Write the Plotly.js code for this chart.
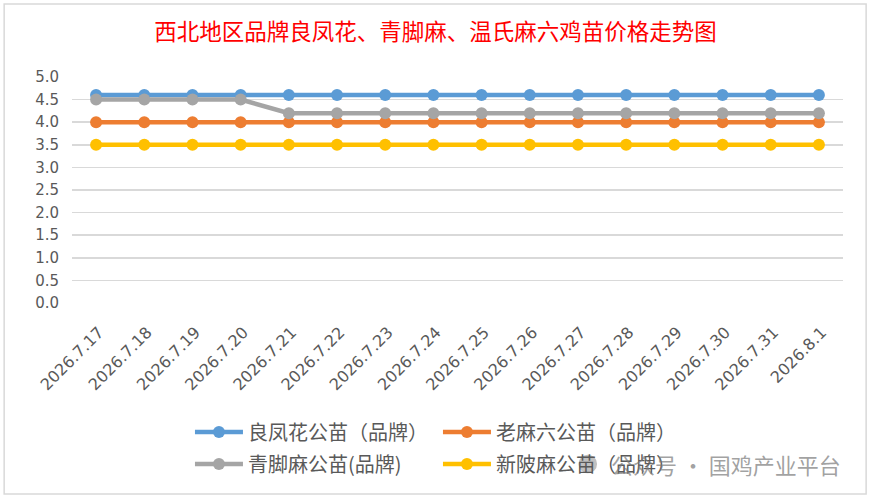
<!DOCTYPE html>
<html>
<head>
<meta charset="utf-8">
<script src="https://cdn.plot.ly/plotly-3.0.1.min.js"></script>
<style>
  html, body { margin: 0; padding: 0; background: #fff; }
  #chart { width: 871px; height: 500px; }
</style>
</head>
<body>
<div id="chart"></div>
<script>
// data
const dates = ['2026.7.17', '2026.7.18', '2026.7.19', '2026.7.20', '2026.7.21', '2026.7.22',
  '2026.7.23', '2026.7.24', '2026.7.25', '2026.7.26', '2026.7.27', '2026.7.28',
  '2026.7.29', '2026.7.30', '2026.7.31', '2026.8.1'];
const liangFengHua = [4.6, 4.6, 4.6, 4.6, 4.6, 4.6, 4.6, 4.6, 4.6, 4.6, 4.6, 4.6, 4.6, 4.6, 4.6, 4.6];
const laoMaLiu = [4.0, 4.0, 4.0, 4.0, 4.0, 4.0, 4.0, 4.0, 4.0, 4.0, 4.0, 4.0, 4.0, 4.0, 4.0, 4.0];
const qingJiaoMa = [4.5, 4.5, 4.5, 4.5, 4.2, 4.2, 4.2, 4.2, 4.2, 4.2, 4.2, 4.2, 4.2, 4.2, 4.2, 4.2];
const xinPoMa = [3.5, 3.5, 3.5, 3.5, 3.5, 3.5, 3.5, 3.5, 3.5, 3.5, 3.5, 3.5, 3.5, 3.5, 3.5, 3.5];
const seriesNames = ['良凤花公苗（品牌）', '老麻六公苗（品牌）', '青脚麻公苗(品牌)', '新陂麻公苗（品牌）'];
const yTicks = [0, 0.5, 1, 1.5, 2, 2.5, 3, 3.5, 4, 4.5, 5];

const CJK_FONT = '"Noto Sans CJK SC", "Noto Sans", sans-serif';
const NUM_FONT = '"DejaVu Sans", sans-serif';
const TEXT_GREY = '#595959';

function makeTrace(name, values, color, legendName) {
  return {
    x: dates,
    y: values,
    name: name,
    legend: legendName,
    type: 'scatter',
    mode: 'lines+markers',
    line: { color: color, width: 4.5 },
    marker: { color: color, size: 12 }
  };
}

// two legends, one per row, so the rows sit where the reference has them
const traces = [
  makeTrace(seriesNames[0], liangFengHua, '#5B9BD5', 'legend'),
  makeTrace(seriesNames[1], laoMaLiu, '#ED7D31', 'legend'),
  makeTrace(seriesNames[2], qingJiaoMa, '#A5A5A5', 'legend2'),
  makeTrace(seriesNames[3], xinPoMa, '#FFC000', 'legend2')
];

function legendRow(y) {
  return {
    orientation: 'h',
    x: 0.153,
    xanchor: 'left',
    y: y,
    yanchor: 'middle',
    entrywidth: 185,
    entrywidthmode: 'pixels',
    itemwidth: 48,
    font: { family: CJK_FONT, size: 20, color: TEXT_GREY },
    bgcolor: 'rgba(0,0,0,0)'
  };
}

const layout = {
  width: 871,
  height: 500,
  paper_bgcolor: '#fff',
  plot_bgcolor: '#fff',
  margin: { l: 72, r: 28, t: 77, b: 197, pad: 0 },
  font: { family: CJK_FONT, color: TEXT_GREY },
  title: {
    text: '西北地区品牌良凤花、青脚麻、温氏麻六鸡苗价格走势图',
    font: { family: CJK_FONT, size: 22.5, color: '#FF0000' },
    x: 0.5,
    xanchor: 'center',
    y: 0.935,
    yanchor: 'middle'
  },
  xaxis: {
    type: 'category',
    range: [-0.5, 15.5],
    showgrid: false,
    zeroline: false,
    showline: false,
    ticks: '',
    tickangle: -45,
    ticklabelstandoff: 16,
    ticklabelshift: 3,
    tickfont: { family: NUM_FONT, size: 16, color: TEXT_GREY }
  },
  yaxis: {
    range: [0, 5],
    tickvals: yTicks,
    ticktext: yTicks.map(v => v.toFixed(1)),
    showgrid: true,
    gridcolor: '#D9D9D9',
    gridwidth: 1.5,
    zeroline: false,
    showline: false,
    ticks: '',
    ticklabelstandoff: 12,
    tickfont: { family: NUM_FONT, size: 15, color: TEXT_GREY }
  },
  showlegend: true,
  legend: legendRow(-0.571),
  legend2: legendRow(-0.712),
  shapes: [
    {
      type: 'rect', xref: 'paper', yref: 'paper',
      x0: -0.088, x1: 1.03, y0: -0.845, y1: 1.323,
      line: { color: '#D9D9D9', width: 1.5 },
      fillcolor: 'rgba(0,0,0,0)', layer: 'below'
    },
    {
      // watermark icon
      type: 'circle', xref: 'paper', yref: 'paper',
      x0: 0.657, x1: 0.681, y0: -0.753, y1: -0.671,
      line: { width: 0 },
      fillcolor: 'rgba(150,150,150,0.6)'
    }
  ],
  annotations: [
    {
      text: '公众号 · 国鸡产业平台',
      xref: 'paper', yref: 'paper',
      x: 1.0, xanchor: 'right',
      y: -0.712, yanchor: 'middle',
      showarrow: false,
      font: { family: CJK_FONT, size: 22, color: 'rgba(120,120,120,0.7)' }
    }
  ]
};

Plotly.newPlot('chart', traces, layout, { displayModeBar: false, staticPlot: true });
</script>
</body>
</html>
